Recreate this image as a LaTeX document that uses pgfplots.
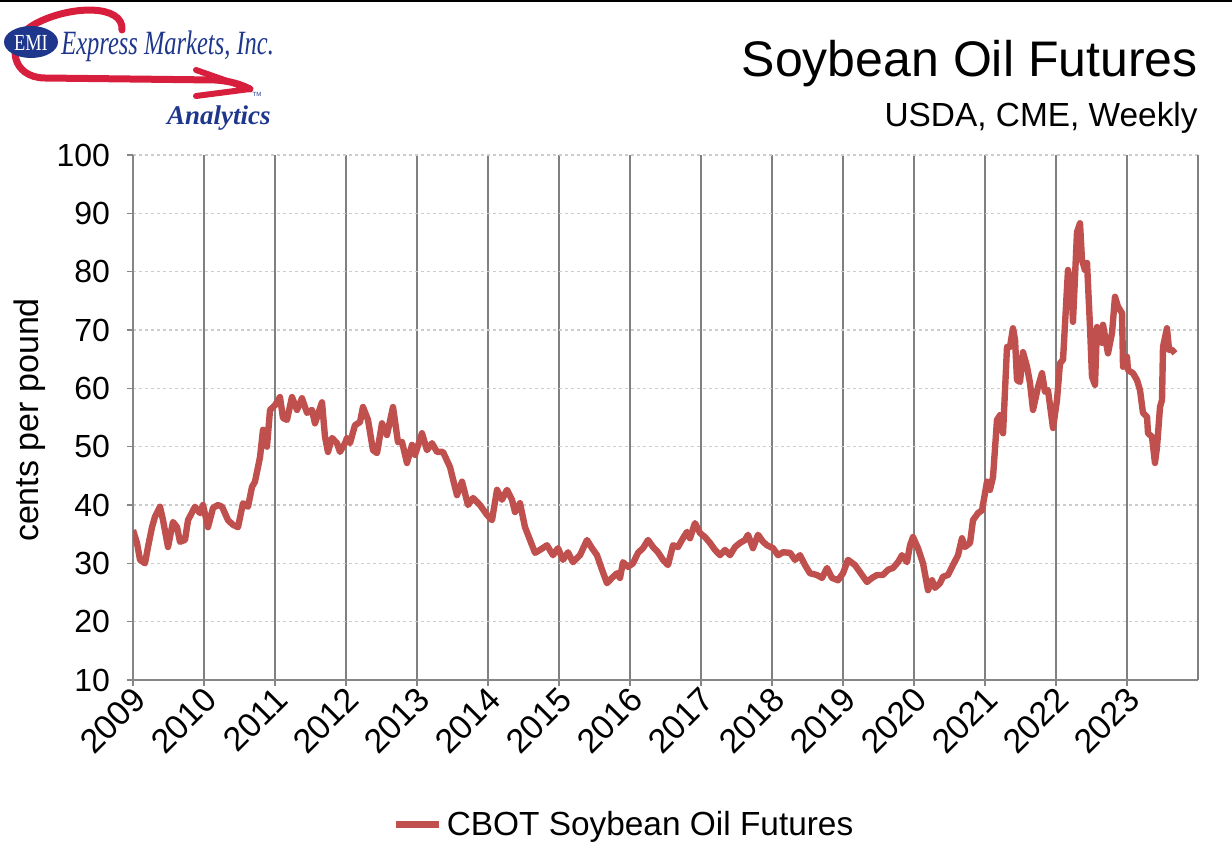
\documentclass[border=0pt]{standalone}
\usepackage{fontspec}
\setmainfont{Liberation Sans}
\newfontfamily\logofont{Liberation Serif}
\usepackage{graphicx}
\usepackage{pgfplots}
\pgfplotsset{compat=1.18}
\definecolor{lineRed}{RGB}{192,80,77}
\definecolor{logoBlue}{RGB}{30,55,140}
\definecolor{logoRed}{RGB}{215,30,60}
\definecolor{axisgray}{RGB}{134,134,134}
\definecolor{vgray}{RGB}{128,128,128}
\definecolor{hgray}{RGB}{205,205,205}
\begin{document}
\begin{tikzpicture}
\path[use as bounding box] (0,0) rectangle (616pt,432pt);
\begin{scope}[x=0.5pt,y=-0.5pt,shift={(0pt,432pt)}]
\draw[black, line width=1pt] (0,1.5) -- (1232,1.5);
% ---- logo ----
\draw[logoRed, line width=3.5pt, line cap=round]
  (122,30) .. controls (124,4) and (70,5) .. (35,24)
  .. controls (3,42) and (12,78) .. (45,78)
  -- (215,80) .. controls (230,81) and (240,84) .. (250,89);
\draw[logoRed, line width=3pt, line cap=round, line join=round]
  (196,70) -- (250,89) -- (196,96);
\fill[logoBlue] (31,42) ellipse [x radius=13.5pt, y radius=8pt];
\node[text=white, font=\logofont\fontsize{11.5}{11.5}\selectfont, inner sep=0pt] at (31,43) {\scalebox{0.8}[1]{EMI}};
\node[text=logoBlue, font=\logofont\itshape\fontsize{17}{17}\selectfont, anchor=base west, inner sep=0pt] at (61,55) {\scalebox{0.72}[1]{Express Markets, Inc.}};
\node[text=logoBlue, font=\logofont\bfseries\itshape\fontsize{13.5}{13.5}\selectfont, anchor=base east, inner sep=0pt] at (271,125) {Analytics};
\node[text=logoBlue, font=\fontsize{3}{3}\selectfont, inner sep=0pt] at (257,94) {TM};
% ---- titles ----
\node[anchor=east, inner sep=0pt, font=\fontsize{25}{30}\selectfont] at (1198,64) {Soybean Oil Futures};
\node[anchor=east, inner sep=0pt, font=\fontsize{16.7}{20}\selectfont] at (1198,118) {USDA, CME, Weekly};
\node[rotate=90, inner sep=0pt, font=\fontsize{17}{20}\selectfont] at (30,420) {cents per pound};
\end{scope}
\begin{axis}[
 at={(66.5pt,92pt)}, anchor=south west,
 scale only axis, width=532.5pt, height=262.5pt,
 xmin=2009, xmax=2024, ymin=10, ymax=100,
 axis x line*=bottom, axis y line*=left,
 axis line style={draw=axisgray, line width=0.75pt, -},
 xtick={2009,...,2023},
 xticklabels={2009,2010,2011,2012,2013,2014,2015,2016,2017,2018,2019,2020,2021,2022,2023},
 extra x ticks={2024}, extra x tick labels={},
 extra x tick style={grid=major, major tick length=0pt},
 ytick={10,20,...,100},
 xmajorgrids, ymajorgrids,
 x grid style={draw=vgray, line width=0.75pt},
 y grid style={draw=hgray, line width=0.75pt, dash pattern=on 1.5pt off 1.5pt},
 tick align=outside, major tick length=3pt,
 tick style={draw=axisgray, line width=0.75pt},
 /pgf/number format/assume math mode=true,
 yticklabel style={font=\fontsize{16}{19}\selectfont, anchor=east, xshift=-5pt},
 xticklabel style={font=\fontsize{17}{20}\selectfont, rotate=45, anchor=east, xshift=3pt, yshift=-5pt},
 legend style={at={(axis description cs:0.462,-0.276)}, anchor=center, draw=none, fill=none,
   font=\fontsize{16.7}{20}\selectfont, inner sep=0pt},
 legend image code/.code={\draw[#1, line width=3.5pt] (0pt,0pt) -- (21.5pt,0pt);},
]
\addplot[color=lineRed, line width=3.2pt, line join=round, no marks] coordinates {
(2009.000,35.7)(2009.056,33.5)(2009.099,30.6)(2009.169,30.0)(2009.211,32.8)(2009.268,36.2)
(2009.310,38.0)(2009.380,39.7)(2009.423,37.4)(2009.493,32.8)(2009.563,37.1)(2009.620,36.2)
(2009.662,33.7)(2009.732,34.0)(2009.775,37.4)(2009.873,39.7)(2009.944,38.6)(2009.986,40.0)
(2010.056,36.2)(2010.127,39.5)(2010.197,40.0)(2010.254,39.7)(2010.338,37.4)(2010.408,36.6)
(2010.479,36.2)(2010.549,40.3)(2010.620,39.7)(2010.676,43.1)(2010.718,44.0)(2010.789,48.2)
(2010.831,52.9)(2010.887,50.0)(2010.930,56.3)(2011.000,57.1)(2011.070,58.5)(2011.113,54.9)
(2011.169,54.6)(2011.239,58.5)(2011.310,56.3)(2011.380,58.3)(2011.451,55.8)(2011.521,56.3)
(2011.563,54.0)(2011.662,57.6)(2011.704,51.7)(2011.746,49.1)(2011.803,51.5)(2011.873,50.6)
(2011.915,49.1)(2011.986,50.6)(2012.014,51.5)(2012.056,50.6)(2012.127,53.7)(2012.197,54.2)
(2012.239,56.8)(2012.310,54.6)(2012.380,49.4)(2012.437,48.9)(2012.507,54.0)(2012.577,52.0)
(2012.662,56.8)(2012.732,50.8)(2012.789,50.8)(2012.859,47.2)(2012.930,50.3)(2012.972,48.6)
(2013.070,52.3)(2013.141,49.4)(2013.211,50.6)(2013.282,49.1)(2013.366,49.1)(2013.465,46.5)
(2013.563,41.7)(2013.634,44.0)(2013.718,40.0)(2013.789,41.2)(2013.887,40.0)(2013.986,38.3)
(2014.056,37.4)(2014.127,42.6)(2014.197,40.9)(2014.268,42.6)(2014.338,40.9)(2014.380,38.8)
(2014.451,40.3)(2014.521,36.2)(2014.592,34.0)(2014.662,31.8)(2014.732,32.3)(2014.831,33.1)
(2014.915,31.4)(2014.986,32.6)(2015.056,30.6)(2015.127,31.9)(2015.197,30.2)(2015.296,31.4)
(2015.394,34.0)(2015.465,32.6)(2015.535,31.4)(2015.606,28.9)(2015.676,26.6)(2015.746,27.5)
(2015.817,28.3)(2015.859,27.5)(2015.901,30.2)(2015.972,29.4)(2016.042,30.0)(2016.113,31.8)
(2016.183,32.6)(2016.254,34.0)(2016.324,32.8)(2016.394,31.9)(2016.465,30.6)(2016.535,29.7)
(2016.606,33.1)(2016.676,32.8)(2016.746,34.3)(2016.803,35.4)(2016.845,34.3)(2016.915,36.9)
(2016.986,35.2)(2017.056,34.5)(2017.127,33.5)(2017.197,32.3)(2017.268,31.4)(2017.338,32.3)
(2017.408,31.4)(2017.479,32.8)(2017.549,33.5)(2017.620,34.0)(2017.662,34.9)(2017.732,32.6)
(2017.803,34.9)(2017.873,33.7)(2017.930,33.1)(2018.014,32.6)(2018.085,31.4)(2018.155,31.9)
(2018.254,31.8)(2018.324,30.6)(2018.394,31.4)(2018.465,29.7)(2018.535,28.3)(2018.634,28.0)
(2018.704,27.5)(2018.775,29.2)(2018.845,27.5)(2018.930,27.1)(2019.000,28.3)(2019.070,30.6)
(2019.169,29.7)(2019.239,28.5)(2019.338,26.8)(2019.408,27.5)(2019.479,28.0)(2019.563,28.0)
(2019.634,28.9)(2019.704,29.2)(2019.775,30.2)(2019.831,31.4)(2019.901,30.2)(2019.944,33.1)
(2019.986,34.5)(2020.056,32.6)(2020.127,30.0)(2020.197,25.4)(2020.254,27.1)(2020.296,25.8)
(2020.366,26.6)(2020.408,27.7)(2020.479,28.0)(2020.549,29.7)(2020.620,31.4)(2020.676,34.3)
(2020.718,32.8)(2020.789,33.5)(2020.831,37.4)(2020.901,38.6)(2020.958,39.1)(2021.028,44.0)
(2021.070,42.6)(2021.113,44.8)(2021.169,54.6)(2021.211,55.4)(2021.254,52.3)(2021.310,67.1)
(2021.352,67.1)(2021.394,70.3)(2021.423,68.3)(2021.451,61.4)(2021.493,61.1)(2021.535,66.2)
(2021.592,63.7)(2021.634,60.9)(2021.676,56.3)(2021.746,60.2)(2021.803,62.6)(2021.845,59.4)
(2021.887,59.7)(2021.958,53.2)(2022.014,58.0)(2022.056,64.3)(2022.099,64.9)(2022.169,80.3)
(2022.225,75.1)(2022.239,71.4)(2022.296,86.8)(2022.338,88.3)(2022.366,82.0)(2022.408,80.3)
(2022.437,81.5)(2022.479,70.5)(2022.507,62.0)(2022.549,60.6)(2022.577,70.5)(2022.648,67.8)
(2022.662,70.9)(2022.732,66.0)(2022.789,69.5)(2022.831,75.7)(2022.873,74.0)(2022.930,72.9)
(2022.944,63.7)(2023.000,65.4)(2023.014,63.1)(2023.085,62.6)(2023.141,61.4)(2023.183,59.7)
(2023.225,55.8)(2023.282,55.1)(2023.296,52.3)(2023.352,51.7)(2023.394,47.2)(2023.423,50.0)
(2023.465,56.8)(2023.493,58.0)(2023.507,67.1)(2023.563,70.3)(2023.592,66.6)(2023.634,66.6)
(2023.676,66.0)
};
\addlegendentry{CBOT Soybean Oil Futures}
\end{axis}
\end{tikzpicture}
\end{document}
